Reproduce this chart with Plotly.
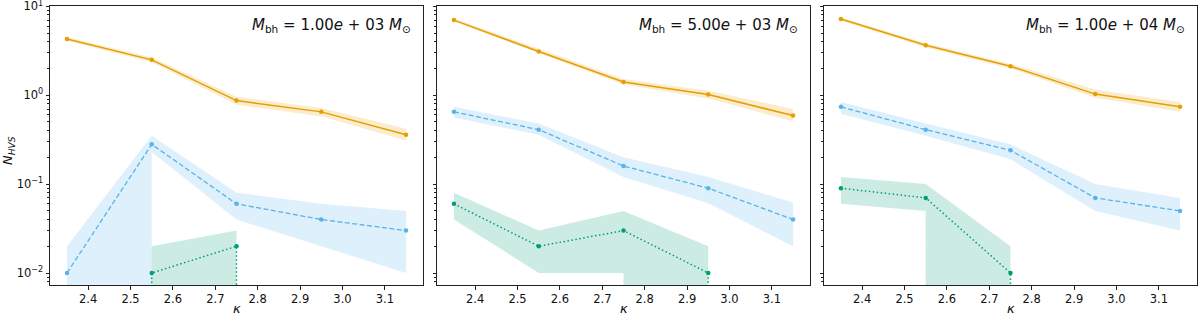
import plotly.graph_objects as go

kappa = [2.35, 2.55, 2.75, 2.95, 3.15]
x_ticks = [2.4, 2.5, 2.6, 2.7, 2.8, 2.9, 3.0, 3.1]
mass_labels = ["1.00", "5.00", "1.00"]
mass_exps = ["03", "03", "04"]

# panel 1 (M_bh = 1e3)
orange1 = [4.3, 2.5, 0.87, 0.65, 0.36]
orange1_lo = [4.1, 2.35, 0.78, 0.58, 0.31]
orange1_hi = [4.5, 2.65, 0.96, 0.72, 0.42]
blue1 = [0.01, 0.28, 0.060, 0.040, 0.030]
blue1_lo = [0, 0.23, 0.040, 0.020, 0.010]
blue1_hi = [0.020, 0.35, 0.080, 0.060, 0.050]
green1 = [0, 0.01, 0.02, 0, 0]
green1_lo = [0, 0, 0, 0, 0]
green1_hi = [0, 0.02, 0.03, 0, 0]

# panel 2 (M_bh = 5e3)
orange2 = [7.0, 3.1, 1.41, 1.02, 0.59]
orange2_lo = [6.7, 2.95, 1.32, 0.92, 0.51]
orange2_hi = [7.3, 3.3, 1.52, 1.12, 0.70]
blue2 = [0.65, 0.41, 0.16, 0.090, 0.040]
blue2_lo = [0.56, 0.36, 0.12, 0.061, 0.020]
blue2_hi = [0.74, 0.48, 0.20, 0.12, 0.062]
green2 = [0.06, 0.02, 0.03, 0.01, 0]
green2_lo = [0.04, 0.01, 0.01, 0, 0]
green2_hi = [0.08, 0.03, 0.05, 0.02, 0]

# panel 3 (M_bh = 1e4)
orange3 = [7.2, 3.65, 2.12, 1.03, 0.74]
orange3_lo = [6.9, 3.45, 2.0, 0.94, 0.65]
orange3_hi = [7.5, 3.85, 2.25, 1.16, 0.84]
blue3 = [0.74, 0.41, 0.24, 0.070, 0.050]
blue3_lo = [0.62, 0.35, 0.19, 0.05, 0.03]
blue3_hi = [0.84, 0.48, 0.28, 0.10, 0.07]
green3 = [0.09, 0.07, 0.01, 0, 0]
green3_lo = [0.06, 0.05, 0, 0, 0]
green3_hi = [0.12, 0.10, 0.02, 0, 0]

panels = [
    (orange1, orange1_lo, orange1_hi, blue1, blue1_lo, blue1_hi, green1, green1_lo, green1_hi),
    (orange2, orange2_lo, orange2_hi, blue2, blue2_lo, blue2_hi, green2, green2_lo, green2_hi),
    (orange3, orange3_lo, orange3_hi, blue3, blue3_lo, blue3_hi, green3, green3_lo, green3_hi),
]

C_OR = "#E69F00"
C_BL = "#56B4E9"
C_GR = "#009E73"
F_OR = "rgba(230,159,0,0.2)"
F_BL = "rgba(86,180,233,0.2)"
F_GR = "rgba(0,158,115,0.2)"

FLOOR = 10 ** -2.6  # below visible range: emulates log clipping of zeros


def clip_path(xs, ys):
    """Emulate matplotlib's log-scale handling of zeros: near-vertical drops."""
    px, py = [], []
    for i, (x, y) in enumerate(zip(xs, ys)):
        if i > 0:
            pz = ys[i - 1] <= 0
            cz = y <= 0
            if not pz and cz:
                px.append(xs[i - 1]); py.append(FLOOR)
            elif pz and not cz:
                px.append(x); py.append(FLOOR)
        px.append(x)
        py.append(FLOOR if y <= 0 else y)
    return px, py


PX_L, PX_R = 50, 1197
W = PX_R - PX_L
panel_px = [(50, 423), (437, 810), (824, 1197)]
domains = [[(a - PX_L) / W, (b - PX_L) / W] for a, b in panel_px]

fig = go.Figure()

minor_vals = [k * 10 ** n for n in range(-3, 2) for k in range(2, 10)]

for p, data in enumerate(panels):
    o, olo, ohi, b, blo, bhi, g, glo, ghi = data
    xa = "x" if p == 0 else f"x{p+1}"
    ya = "y" if p == 0 else f"y{p+1}"
    series = [
        (o, olo, ohi, C_OR, F_OR, "solid", 1.5),
        (b, blo, bhi, C_BL, F_BL, "5px,2.5px", 1.3),
        (g, glo, ghi, C_GR, F_GR, "1.5px,2.5px", 1.5),
    ]
    for vals, lo, hi, col, fcol, dash, lw in series:
        bx, by = clip_path(kappa + kappa[::-1], hi + lo[::-1])
        fig.add_trace(go.Scatter(x=bx, y=by, fill="toself", fillcolor=fcol,
                                 line=dict(width=0), mode="lines", hoverinfo="skip",
                                 showlegend=False, xaxis=xa, yaxis=ya))
        lx, ly = clip_path(kappa, vals)
        fig.add_trace(go.Scatter(x=lx, y=ly, mode="lines",
                                 line=dict(color=col, width=lw, dash=dash),
                                 showlegend=False, xaxis=xa, yaxis=ya))
        mx = [x for x, v in zip(kappa, vals) if v > 0]
        my = [v for v in vals if v > 0]
        fig.add_trace(go.Scatter(x=mx, y=my, mode="markers",
                                 marker=dict(color=col, size=4.5),
                                 showlegend=False, xaxis=xa, yaxis=ya))

    axis_common = dict(showline=True, linecolor="#222", linewidth=1, mirror=True,
                       showgrid=False, zeroline=False, ticks="outside",
                       ticklen=3.5, tickwidth=0.8, tickcolor="#222",
                       ticklabeloverflow="allow", automargin=False)
    fig.update_layout(**{
        ("xaxis" if p == 0 else f"xaxis{p+1}"): dict(
            domain=domains[p], anchor=ya, range=[2.31, 3.19],
            tickvals=x_ticks, ticktext=[f"{v:.1f}" for v in x_ticks],
            tickfont=dict(size=11.5, color="#111"), **axis_common),
        ("yaxis" if p == 0 else f"yaxis{p+1}"): dict(
            domain=[0, 1], anchor=xa, type="log", range=[-2.135, 1.004],
            tickvals=[10, 1, 0.1, 0.01],
            ticktext=["10<sup>1</sup>", "10<sup>0</sup>", "10<sup>−1</sup>", "10<sup>−2</sup>"],
            showticklabels=(p == 0),
            tickfont=dict(size=11.5, color="#111"),
            minor=dict(tickvals=minor_vals, ticks="outside", ticklen=2,
                       tickwidth=0.6, tickcolor="#222"),
            **axis_common),
    })

    fig.add_annotation(
        text=f"<i>M</i><sub>bh</sub> = {mass_labels[p]}<i>e</i> + {mass_exps[p]} <i>M</i><sub>⊙</sub>",
        xref=f"{xa} domain", yref=f"{ya} domain", x=1, y=1,
        xanchor="right", yanchor="middle", xshift=-10, yshift=-19,
        showarrow=False, font=dict(size=15, color="#111"))
    fig.add_annotation(
        text="<i>κ</i>", xref=f"{xa} domain", yref="paper", x=0.5, y=-0.085,
        xanchor="center", yanchor="middle", showarrow=False,
        font=dict(size=13, color="#111"))

fig.add_annotation(
    text="<i>N</i><sub><i>HVS</i></sub>", xref="paper", yref="paper",
    x=0, y=0.48, xanchor="center", yanchor="middle", xshift=-42,
    textangle=-90, showarrow=False, font=dict(size=13, color="#111"))

fig.update_layout(
    width=1200, height=317,
    margin=dict(l=50, r=3, t=6, b=32, autoexpand=False),
    paper_bgcolor="white", plot_bgcolor="white",
    font=dict(family="DejaVu Sans", color="#111"),
    showlegend=False,
)

fig.write_html(
    "out.html",
    config={"displayModeBar": False},
    post_script="document.body.style.margin='0';document.body.style.overflow='hidden';",
)
